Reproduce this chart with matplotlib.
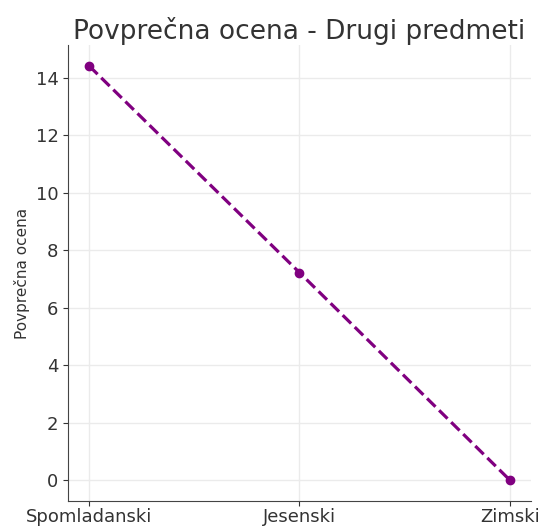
import matplotlib.pyplot as plt

semestri = ["Spomladanski", "Jesenski", "Zimski"]
ocene = [14.41, 7.22, 0.0]

fig = plt.figure(figsize=(5.45, 5.26), dpi=100)
ax = fig.add_axes([0.125, 0.048, 0.849, 0.866])

ax.plot(semestri, ocene, linestyle='--', marker='o', color='purple',
        linewidth=2.3, markersize=6)

ax.set_title("Povprečna ocena - Drugi predmeti", fontsize=19, color='#333333', pad=3)
ax.set_ylabel("Povprečna ocena", fontsize=11, color='#333333')
ax.grid(True, color='#ebebeb', linewidth=1)
ax.set_axisbelow(True)
for s in ['top', 'right']:
    ax.spines[s].set_visible(False)
for s in ['left', 'bottom']:
    ax.spines[s].set_color('#444444')
ax.tick_params(colors='#333333', labelsize=13)
ax.tick_params(axis='x', pad=2)
ax.set_yticks([0, 2, 4, 6, 8, 10, 12, 14])

plt.savefig('out.png', dpi=100)
